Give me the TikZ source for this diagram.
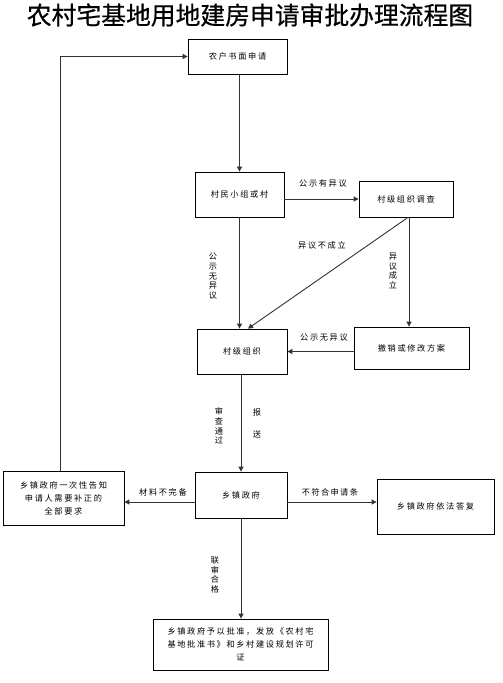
\documentclass[tikz,border=0pt]{standalone}
\usepackage{fontspec}
\usetikzlibrary{arrows.meta,calc}
\newfontfamily\cjk[LetterSpace=20]{Noto Sans CJK SC}
\newfontfamily\cjktitle[FakeBold=0.6]{Noto Sans CJK SC}
\tikzset{
  box/.style={draw=black,line width=0.8pt,rectangle,inner sep=1pt,align=center,
    font=\cjk\fontsize{8.2}{13}\selectfont},
  lbl/.style={inner sep=0pt,align=center,font=\cjk\fontsize{8.2}{10}\selectfont},
  vlbl/.style={inner sep=0pt,align=center,font=\cjk\fontsize{8.2}{9.6}\selectfont},
  arr/.style={draw=black!80,line width=0.9pt,-{Triangle[length=5pt,width=5pt]}}
}
\begin{document}
\begin{tikzpicture}[x=1pt,y=-1pt]
\useasboundingbox (0,0) rectangle (503,683);
\node[inner sep=0pt,font=\cjktitle\fontsize{24.8}{25}\selectfont] (title) at (250,15) {农村宅基地用地建房申请审批办理流程图};

\node[box,minimum width=99pt,minimum height=35pt] (b1) at (237.5,56.5) {农户书面申请};
\node[box,minimum width=89pt,minimum height=45pt] (b2) at (239.5,194.5) {村民小组或村};
\node[box,minimum width=94pt,minimum height=36pt] (b3) at (406,199) {村级组织调查};
\node[box,minimum width=90pt,minimum height=45pt] (b4) at (242,351.5) {村级组织};
\node[box,minimum width=115pt,minimum height=42pt] (b5) at (411.5,348) {撤销或修改方案};
\node[box,minimum width=92pt,minimum height=46pt] (b6) at (241,495) {乡镇政府};
\node[box,minimum width=121pt,minimum height=54pt] (b7) at (63.5,498) {乡镇政府一次性告知\\申请人需要补正的\\全部要求};
\node[box,minimum width=117pt,minimum height=55pt] (b8) at (435.5,506.5) {乡镇政府依法答复};
\node[box,minimum width=175pt,minimum height=51pt] (b9) at (240.5,644.5) {乡镇政府予以批准，发放《农村宅\\基地批准书》和乡村建设规划许可\\证};

\draw[arr] (b2.north |- b1.south) -- (b2.north);
\draw[arr] (b2.east |- b3.west) -- (b3.west);
\draw[arr] (b2.south) -- (b2.south |- b4.north);
\draw[arr] ([xshift=3pt]b3.south) -- ([xshift=3pt]b3.south |- b5.north);
\draw[arr] ([xshift=2pt]b3.south) -- ([xshift=6pt]b4.north);
\draw[arr] (b5.west |- b4.east) -- (b4.east);
\draw[arr] (b4.south -| b6.north) -- (b6.north);
\draw[arr] ([yshift=-7pt]b6.west) -- ([yshift=-7pt]b6.west -| b7.east);
\draw[arr] ([yshift=-7pt]b6.east) -- ([yshift=-7pt]b6.east -| b8.west);
\draw[arr] (b6.south) -- (b6.south |- b9.north);
\draw[arr] ([xshift=-3.5pt]b7.north) |- (b1.west);

\node[lbl] (l1) at (323,183) {公示有异议};
\node[lbl] (l2) at (322,245) {异议不成立};
\node[vlbl] (l3) at (213,276) {公\\示\\无\\异\\议};
\node[vlbl] (l4) at (393,271) {异\\议\\成\\立};
\node[lbl] (l5) at (324,337) {公示无异议};
\node[vlbl] (l6) at (219,426) {审\\查\\通\\过};
\node[vlbl,font=\cjk\fontsize{8.2}{22}\selectfont] (l7) at (257,423) {报\\送};
\node[lbl] (l8) at (163,492) {材料不完备};
\node[lbl] (l9) at (330,492) {不\,符\,合\,申\,请\,条};
\node[vlbl] (l10) at (215,575) {联\\审\\合\\格};
\end{tikzpicture}
\end{document}
